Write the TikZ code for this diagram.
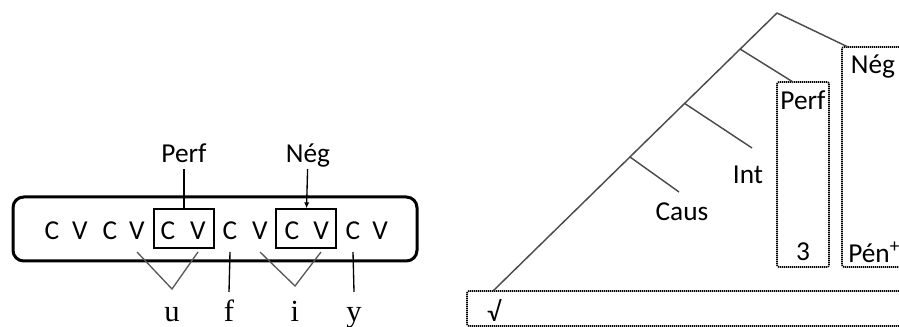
\documentclass[tikz,border=0pt]{standalone}
\usepackage{fontspec}
\setmainfont{Carlito}
\newfontfamily\segfont{Liberation Serif}
\usetikzlibrary{arrows.meta}

\tikzset{
  cv/.style={inner sep=0pt, outer ysep=9pt, text height=12.75pt, text depth=0pt},
  lab/.style={inner sep=0pt, outer ysep=5pt, text height=12.75pt, text depth=0pt},
  seg/.style={inner sep=0pt, outer ysep=6pt, text height=16.5pt, text depth=0pt,
    anchor=base, font=\segfont\fontsize{23}{26}\selectfont},
  cvbox/.style={draw, line width=1pt, minimum width=45pt, minimum height=29.25pt},
  dotbox/.style={draw, line width=1.2pt, dash pattern=on 0.9pt off 0.6pt, rounded corners=1.5pt},
  assoc/.style={draw=black!65, line width=1pt},
  treeline/.style={draw=black!70, line width=1.1pt}
}

\begin{document}
\begin{tikzpicture}[x=0.75pt, y=-0.75pt, font=\fontsize{20.5}{23}\selectfont]
    \useasboundingbox (0,0) rectangle (899,327);

    % Left diagram: CV skeleton
    \draw[line width=2.25pt, rounded corners=8pt] (13,197) rectangle (417,261);
    \node[cv] (c1) at (52,231.5) {C};  \node[cv] (v1) at (80,231.5) {V};
    \node[cv] (c2) at (110,231.5) {C}; \node[cv] (v2) at (137,231.5) {V};
    \node[cv] (c3) at (168,231.5) {C}; \node[cv] (v3) at (198,231.5) {V};
    \node[cv] (c4) at (230,231.5) {C}; \node[cv] (v4) at (260,231.5) {V};
    \node[cv] (c5) at (292,231.5) {C}; \node[cv] (v5) at (321,231.5) {V};
    \node[cv] (c6) at (353,231.5) {C}; \node[cv] (v6) at (380,231.5) {V};
    \node[cvbox] (perfbox) at (184,228.5) {};
    \node[cvbox] (negbox) at (306,228.5) {};
    \node[lab] (perf) at (184,154) {Perf};
    \node[lab] (neg) at (308,154) {Nég};
    \draw[line width=1pt] (perf) -- (perfbox);
    \draw[line width=1pt, -{Latex[length=4.5pt,width=4pt]}] (neg) -- (negbox);

    % melody
    \node[seg] (u) at (172,322) {u};
    \node[seg] (f) at (229,322) {f};
    \node[seg] (i) at (295,322) {i};
    \node[seg] (y) at (354,322) {y};
    \coordinate (uv) at (172,289);
    \coordinate (iv) at (295,286);
    \draw[assoc] (v2.south) -- (uv) -- (v3.south);
    \draw[assoc] (v4.south) -- (iv) -- (v5.south);
    \draw[line width=1pt] (c4.south) -- (f.north);
    \draw[line width=1pt] (c6.south) -- (y.north);

    % Right diagram: tree
    \draw[dotbox] (905,291) -| (467,326) -- (905,326);
    \draw[dotbox] (905,47) -| (842,267) -- (905,267);
    \node[dotbox, minimum width=39pt, minimum height=138.75pt] (perfcol) at (803,174.5) {};
    \node (root) at (494,310) {√};
    \node (caus) at (682,212) {Caus};
    \node (int) at (748,175) {Int};
    \node (perf2) at (803,100) {Perf};
    \node (three) at (803,252) {3};
    \node (neg2) at (873,67) {Nég};
    \node[anchor=west, inner xsep=0pt] (pen) at (848,252) {Pén\textsuperscript{+}};
    \coordinate (top) at (777,13);
    \coordinate (b1) at (740,49);
    \coordinate (b2) at (684,103);
    \coordinate (b3) at (630,157);
    \coordinate (rt) at (493,291);
    \coordinate (nend) at (848,47);
    \coordinate (pend) at (793,82);
    \coordinate (iend) at (752,148);
    \coordinate (cend) at (679,192);
    \draw[treeline] (top) -- (rt);
    \draw[treeline] (top) -- (nend);
    \draw[treeline] (b1) -- (pend);
    \draw[treeline] (b2) -- (iend);
    \draw[treeline] (b3) -- (cend);
\end{tikzpicture}
\end{document}
